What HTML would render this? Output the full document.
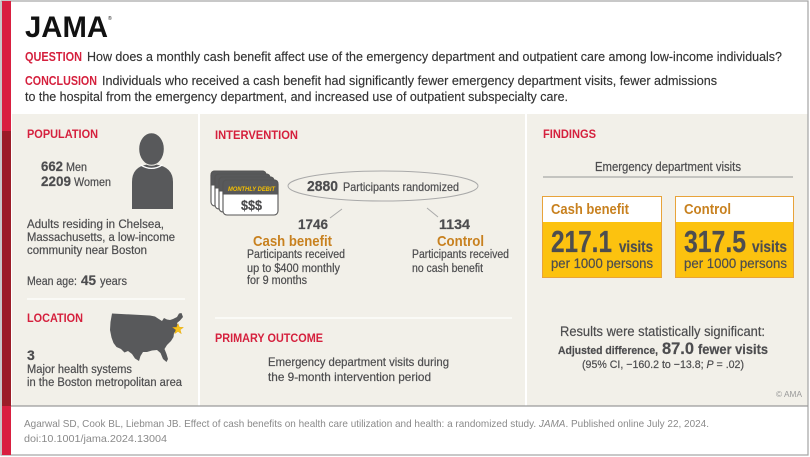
<!DOCTYPE html>
<html><head><meta charset="utf-8"><style>
html,body{margin:0;padding:0;background:#fff;}
svg{display:block;}
text{font-family:"Liberation Sans",sans-serif;}
.d{fill:#4d4d4f;stroke:#4d4d4f;stroke-width:0.2;}
.h{fill:#333;stroke:#333;stroke-width:0.15;}
.r{fill:#d5203d;font-weight:bold;}
.o{fill:#c8811f;font-weight:bold;}
.b{font-weight:bold;}
.g{fill:#8a8a8a;}
</style></head><body>
<svg width="810" height="457" viewBox="0 0 810 457" xmlns="http://www.w3.org/2000/svg">
<rect x="0" y="0" width="810" height="457" fill="#fff"/>
<rect x="12" y="114" width="186" height="292" fill="#f2f0e9"/>
<rect x="200" y="114" width="325" height="292" fill="#f2f0e9"/>
<rect x="527" y="114" width="281" height="292" fill="#f2f0e9"/>
<rect x="1" y="1" width="807" height="454" fill="none" stroke="#a3a3a3" stroke-width="1.2"/>
<line x1="11" y1="406" x2="808" y2="406" stroke="#9a9a9a" stroke-width="1.2"/>
<rect x="2" y="1" width="9" height="130" fill="#d91f40"/>
<rect x="2" y="131" width="9" height="275" fill="#9b1c27"/>
<rect x="2" y="406" width="9" height="49" fill="#d91f40"/>

<text x="25" y="37" font-size="30" class="b" fill="#111" textLength="83" lengthAdjust="spacingAndGlyphs">JAMA</text>
<text x="108" y="20" font-size="5" fill="#111">®</text>
<text x="25" y="61" font-size="13" class="r" textLength="57" lengthAdjust="spacingAndGlyphs">QUESTION</text>
<text x="87" y="61" font-size="13" class="h" textLength="695" lengthAdjust="spacingAndGlyphs">How does a monthly cash benefit affect use of the emergency department and outpatient care among low-income individuals?</text>
<text x="25" y="85" font-size="13" class="r" textLength="72" lengthAdjust="spacingAndGlyphs">CONCLUSION</text>
<text x="102" y="85" font-size="13" class="h" textLength="615" lengthAdjust="spacingAndGlyphs">Individuals who received a cash benefit had significantly fewer emergency department visits, fewer admissions</text>
<text x="25" y="101" font-size="13" class="h" textLength="543" lengthAdjust="spacingAndGlyphs">to the hospital from the emergency department, and increased use of outpatient subspecialty care.</text>

<!-- PANEL 1 -->
<text x="27" y="138" font-size="12" class="r" textLength="71" lengthAdjust="spacingAndGlyphs">POPULATION</text>
<text x="41" y="171" font-size="13.5" class="d b" textLength="22" lengthAdjust="spacingAndGlyphs">662</text>
<text x="66" y="171" font-size="11.5" class="d" textLength="21" lengthAdjust="spacingAndGlyphs">Men</text>
<text x="41" y="186" font-size="13.5" class="d b" textLength="30" lengthAdjust="spacingAndGlyphs">2209</text>
<text x="74" y="186" font-size="11.5" class="d" textLength="37" lengthAdjust="spacingAndGlyphs">Women</text>
<path d="M132,209 L132,182 Q132,167 147,164.5 L156,164.5 Q173,167 173,182 L173,209 Z" fill="#58595b"/>
<path d="M140.5,164.8 Q151.5,172 162.5,164.8" fill="none" stroke="#fff" stroke-width="1.3"/>
<ellipse cx="151.5" cy="149" rx="12.8" ry="16.3" fill="#58595b" stroke="#f2f0e9" stroke-width="1"/>
<text x="27" y="228" font-size="11.5" class="d" textLength="137" lengthAdjust="spacingAndGlyphs">Adults residing in Chelsea,</text>
<text x="27" y="241" font-size="11.5" class="d" textLength="148" lengthAdjust="spacingAndGlyphs">Massachusetts, a low-income</text>
<text x="27" y="254" font-size="11.5" class="d" textLength="120" lengthAdjust="spacingAndGlyphs">community near Boston</text>
<text x="27" y="285" font-size="11.5" class="d" textLength="50" lengthAdjust="spacingAndGlyphs">Mean age:</text>
<text x="81" y="285" font-size="14" class="d b" textLength="15" lengthAdjust="spacingAndGlyphs">45</text>
<text x="100" y="285" font-size="11.5" class="d" textLength="27" lengthAdjust="spacingAndGlyphs">years</text>
<line x1="27" y1="299" x2="185" y2="299" stroke="#fff" stroke-width="1.2"/>
<text x="27" y="322" font-size="12" class="r" textLength="56" lengthAdjust="spacingAndGlyphs">LOCATION</text>
<path d="M112,313.5 L150,315.5 L155,316.5 L158,318.5 L162,321 L164,318 L167,319.5 L170,320 L173,319 L177,317 L179,313.5 L181.5,313 L183,317 L180,320.5 L177,323 L178,327 L177,330 L174,333 L173.5,337 L171,341 L167,345 L164.5,349 L166.5,354 L168,359 L166.5,362 L163,359 L160.5,353 L157,350 L152,350.5 L147,352 L143,352 L140.5,356 L139,361 L135,358.5 L132,354 L128,351 L124.5,352.5 L121,349 L116.5,347 L113.5,343 L111.5,337.5 L110,330 L110.5,322 Z" fill="#58595b"/>
<polygon points="178,323.5 179.4,327.3 183.4,327.4 180.2,329.8 181.3,333.7 178,331.4 174.7,333.7 175.8,329.8 172.6,327.4 176.6,327.3" fill="#f7c21a" stroke="#e0a000" stroke-width="0.4"/>
<text x="27" y="360" font-size="14" class="d b">3</text>
<text x="27" y="373" font-size="11.5" class="d" textLength="105" lengthAdjust="spacingAndGlyphs">Major health systems</text>
<text x="27" y="386" font-size="11.5" class="d" textLength="155" lengthAdjust="spacingAndGlyphs">in the Boston metropolitan area</text>

<!-- PANEL 2 -->
<text x="215" y="139" font-size="12" class="r" textLength="83" lengthAdjust="spacingAndGlyphs">INTERVENTION</text>
<g stroke="#555" stroke-width="1.1">
<rect x="211" y="171" width="55" height="35" rx="4" fill="#fff"/>
<path d="M211,185 L211,175 Q211,171 215,171 L262,171 Q266,171 266,175 L266,185 Z" fill="#58595b"/>
<rect x="215" y="174" width="55" height="35" rx="4" fill="#fff"/>
<path d="M215,188 L215,178 Q215,174 219,174 L266,174 Q270,174 270,178 L270,188 Z" fill="#58595b"/>
<rect x="219" y="177" width="55" height="35" rx="4" fill="#fff"/>
<path d="M219,191 L219,181 Q219,177 223,177 L270,177 Q274,177 274,181 L274,191 Z" fill="#58595b"/>
<rect x="223" y="180" width="55" height="35" rx="4" fill="#fff"/>
<path d="M223,194 L223,184 Q223,180 227,180 L274,180 Q278,180 278,184 L278,194 Z" fill="#58595b"/>
</g>
<text x="228" y="191" font-size="6.5" font-weight="bold" font-style="italic" fill="#f5c000" textLength="47" lengthAdjust="spacingAndGlyphs">MONTHLY DEBIT</text>
<text x="241" y="210" font-size="13.5" class="d b" textLength="21" lengthAdjust="spacingAndGlyphs">$$$</text>
<ellipse cx="383" cy="186" rx="95" ry="15" fill="none" stroke="#a9a9a9" stroke-width="1"/>
<text x="307" y="191" font-size="14.5" class="d b" textLength="31" lengthAdjust="spacingAndGlyphs">2880</text>
<text x="343" y="191" font-size="12" class="d" textLength="116" lengthAdjust="spacingAndGlyphs">Participants randomized</text>
<line x1="342" y1="209" x2="330" y2="218" stroke="#a9a9a9" stroke-width="1"/>
<line x1="427" y1="208" x2="438" y2="217" stroke="#a9a9a9" stroke-width="1"/>
<text x="298" y="229" font-size="14" class="d b" textLength="30" lengthAdjust="spacingAndGlyphs">1746</text>
<text x="253" y="246" font-size="15" class="o" textLength="79" lengthAdjust="spacingAndGlyphs">Cash benefit</text>
<text x="247" y="258" font-size="11.5" class="d" textLength="98" lengthAdjust="spacingAndGlyphs">Participants received</text>
<text x="247" y="272" font-size="11.5" class="d" textLength="93" lengthAdjust="spacingAndGlyphs">up to $400 monthly</text>
<text x="247" y="284" font-size="11.5" class="d" textLength="60" lengthAdjust="spacingAndGlyphs">for 9 months</text>
<text x="439" y="229" font-size="14" class="d b" textLength="31" lengthAdjust="spacingAndGlyphs">1134</text>
<text x="437" y="246" font-size="15" class="o" textLength="47" lengthAdjust="spacingAndGlyphs">Control</text>
<text x="412" y="258" font-size="11.5" class="d" textLength="97" lengthAdjust="spacingAndGlyphs">Participants received</text>
<text x="412" y="272" font-size="11.5" class="d" textLength="71" lengthAdjust="spacingAndGlyphs">no cash benefit</text>
<line x1="215" y1="318" x2="512" y2="318" stroke="#fff" stroke-width="1.2"/>
<text x="215" y="342" font-size="12" class="r" textLength="108" lengthAdjust="spacingAndGlyphs">PRIMARY OUTCOME</text>
<text x="268" y="366" font-size="12" class="d" textLength="181" lengthAdjust="spacingAndGlyphs">Emergency department visits during</text>
<text x="268" y="381" font-size="12" class="d" textLength="163" lengthAdjust="spacingAndGlyphs">the 9-month intervention period</text>

<!-- PANEL 3 -->
<text x="543" y="138" font-size="12" class="r" textLength="53" lengthAdjust="spacingAndGlyphs">FINDINGS</text>
<text x="595" y="171" font-size="12.5" class="d" textLength="146" lengthAdjust="spacingAndGlyphs">Emergency department visits</text>
<line x1="543" y1="177" x2="793" y2="177" stroke="#a9a9a9" stroke-width="1.2"/>
<rect x="542.5" y="196.5" width="119" height="81" fill="#fcc20f" stroke="#e8a33a" stroke-width="1"/>
<rect x="543" y="197" width="118" height="25" fill="#fff"/>
<rect x="675.5" y="196.5" width="118" height="81" fill="#fcc20f" stroke="#e8a33a" stroke-width="1"/>
<rect x="676" y="197" width="117" height="25" fill="#fff"/>
<text x="551" y="214" font-size="14.5" class="o" textLength="78" lengthAdjust="spacingAndGlyphs">Cash benefit</text>
<text x="551" y="252" font-size="31" class="d b" textLength="61" lengthAdjust="spacingAndGlyphs">217.1</text>
<text x="619" y="252" font-size="16" class="d b" textLength="34" lengthAdjust="spacingAndGlyphs">visits</text>
<text x="551" y="268" font-size="14" class="d" textLength="102" lengthAdjust="spacingAndGlyphs">per 1000 persons</text>
<text x="684" y="214" font-size="14.5" class="o" textLength="47" lengthAdjust="spacingAndGlyphs">Control</text>
<text x="684" y="252" font-size="31" class="d b" textLength="62" lengthAdjust="spacingAndGlyphs">317.5</text>
<text x="752" y="252" font-size="16" class="d b" textLength="35" lengthAdjust="spacingAndGlyphs">visits</text>
<text x="684" y="268" font-size="14" class="d" textLength="103" lengthAdjust="spacingAndGlyphs">per 1000 persons</text>
<text x="560" y="336" font-size="13.5" class="d" textLength="205" lengthAdjust="spacingAndGlyphs">Results were statistically significant:</text>
<text x="558" y="354" font-size="11" class="d b" textLength="100" lengthAdjust="spacingAndGlyphs">Adjusted difference,</text>
<text x="662" y="354" font-size="17" class="d b" textLength="32" lengthAdjust="spacingAndGlyphs">87.0</text>
<text x="698" y="354" font-size="13.5" class="d b" textLength="70" lengthAdjust="spacingAndGlyphs">fewer visits</text>
<text x="582" y="368" font-size="11" class="d" textLength="162" lengthAdjust="spacingAndGlyphs">(95% CI, −160.2 to −13.8; <tspan font-style="italic">P</tspan> = .02)</text>
<text x="776" y="397" font-size="8.5" fill="#9a9a9a" textLength="26" lengthAdjust="spacingAndGlyphs">© AMA</text>

<!-- footer -->
<text x="24" y="427" font-size="10.5" class="g" textLength="685" lengthAdjust="spacingAndGlyphs">Agarwal SD, Cook BL, Liebman JB. Effect of cash benefits on health care utilization and health: a randomized study. <tspan font-style="italic">JAMA</tspan>. Published online July 22, 2024.</text>
<text x="24" y="442" font-size="10.5" class="g" textLength="143" lengthAdjust="spacingAndGlyphs">doi:10.1001/jama.2024.13004</text>
</svg>
</body></html>
